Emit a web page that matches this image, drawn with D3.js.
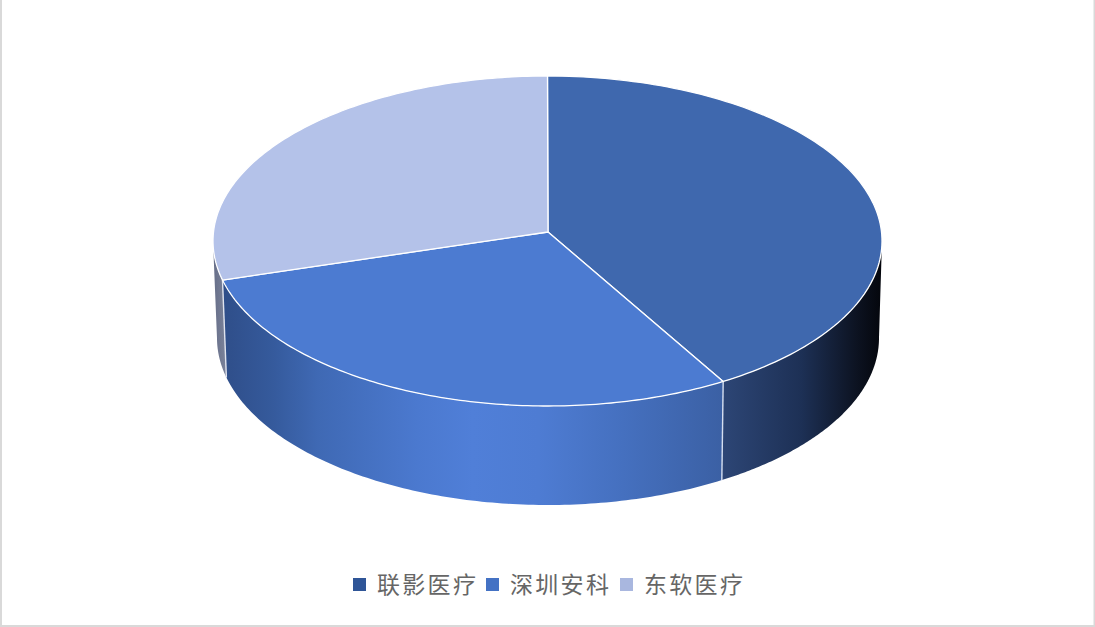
<!DOCTYPE html>
<html><head><meta charset="utf-8">
<script src="https://cdn.jsdelivr.net/npm/d3@7"></script>
<style>html,body{margin:0;padding:0;background:#fff;overflow:hidden}svg{display:block}</style>
</head><body><svg id="c" width="1095" height="627"></svg>
<script>
const categories = ["联影医疗","深圳安科","东软医疗"];
const shares = [41.2,30,28.8];
const topColors = ["#3f68ae","#4c7bd1","#b4c2e9"];
const legendColors = ["#2f5597","#4472c4","#a9b7df"];
const sideStops = [
  [[0,"#2d4676"],[0.5,"#1d3055"],[0.85,"#0c1220"],[1,"#04060c"]],
  [[0,"#2f4e89"],[0.1,"#355a9c"],[0.19,"#3f69b4"],[0.39,"#4b79cf"],[0.5,"#507fd8"],[0.63,"#4e7cd3"],[0.8,"#4570bf"],[1,"#3b60a4"]],
  [[0,"#666e88"],[1,"#7b839b"]]
];
const legendMarkerX = [353,486,620];
const legendTextX = [377,510,644];

const svg = d3.select("#c");
const W=1095,H=627;
svg.append("path").attr("d",`M1,0V${H-1}H${W-0.5}V0`)
  .attr("fill","none").attr("stroke","#d9d9d9").attr("stroke-width",2);

const topE={cx:547.5,cy:241,rx:334.5,ry:165}, botE={cx:548,cy:338,rx:331,ry:167};
const apex=[548,232];
const pt=(e,a)=>[e.cx+e.rx*Math.sin(a), e.cy-e.ry*Math.cos(a)];
const arcPts=(e,a0,a1)=>d3.range(0,121).map(i=>pt(e,a0+(a1-a0)*i/120));
const line=d3.line();
const arcs=d3.pie().sort(null)(shares);
const defs=svg.append("defs");

const frontStart=Math.PI/2, frontEnd=Math.PI*1.5;
arcs.forEach((d,i)=>{
  const a0=Math.max(d.startAngle,frontStart), a1=Math.min(d.endAngle,frontEnd);
  if(a1<=a0) return;
  const up=arcPts(topE,a0,a1), low=arcPts(botE,a0,a1).reverse();
  const xs=up.concat(low).map(p=>p[0]);
  const id="side"+i;
  const g=defs.append("linearGradient").attr("id",id).attr("gradientUnits","userSpaceOnUse")
    .attr("x1",d3.min(xs)).attr("x2",d3.max(xs)).attr("y1",0).attr("y2",0);
  sideStops[i].forEach(s=>g.append("stop").attr("offset",s[0]).attr("stop-color",s[1]));
  svg.append("path").attr("d",line(up.concat(low))+"Z").attr("fill",`url(#${id})`);
});
arcs.slice(0,2).forEach((d,i)=>{
  const p=pt(topE,d.endAngle), q=pt(botE,d.endAngle);
  svg.append("path").attr("d",line([p,q])).attr("stroke",i==0?"#d5def0":"#dfe3ee")
    .attr("stroke-width",1.4).attr("fill","none");
});
arcs.forEach((d,i)=>{
  const pts=[apex].concat(arcPts(topE,d.startAngle,d.endAngle));
  svg.append("path").attr("d",line(pts)+"Z").attr("fill",topColors[i])
    .attr("stroke","#fff").attr("stroke-width",1.3).attr("stroke-linejoin","round");
});
categories.forEach((c,i)=>{
  svg.append("rect").attr("x",legendMarkerX[i]).attr("y",578).attr("width",13).attr("height",13).attr("fill",legendColors[i]);
  svg.append("text").attr("x",legendTextX[i]).attr("y",593).text(c)
    .attr("font-family","'Noto Sans CJK SC'").attr("font-size",23).attr("font-weight",400).attr("letter-spacing",2.3)
    .attr("fill","#666666");
});
</script></body></html>
